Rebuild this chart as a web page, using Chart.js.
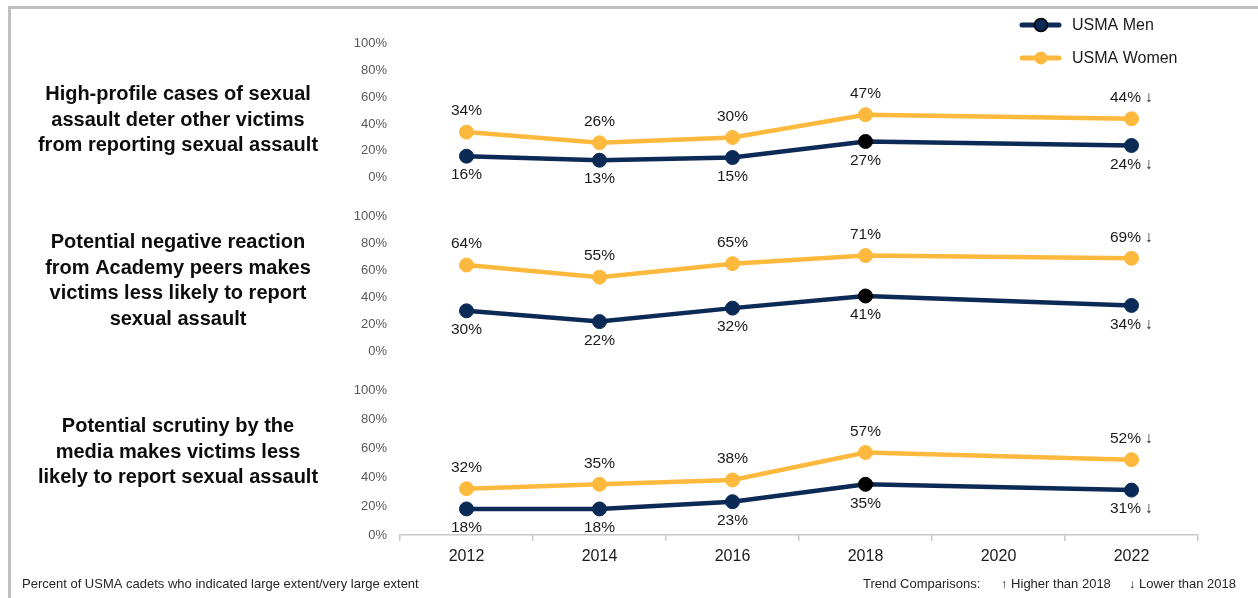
<!DOCTYPE html>
<html>
<head>
<meta charset="utf-8">
<title>USMA - reasons victims do not report</title>
<script src="https://cdn.jsdelivr.net/npm/chart.js@4.4.1/dist/chart.umd.min.js"></script>
<style>
    html, body { margin: 0; padding: 0; background: #fff; }
    #wrap { position: relative; width: 1258px; height: 598px; overflow: hidden; }
    #frame { position: absolute; left: 8px; top: 6px; right: -4px; bottom: -4px; border-left: 3px solid #c0c0c0; border-top: 3px solid #c0c0c0; }
    #chart { position: absolute; left: 0; top: 0; }
</style>
</head>
<body>
<div id="wrap">
    <div id="frame"></div>
    <canvas id="chart" width="1258" height="598"></canvas>
</div>
<script>
const years = ['2012', '2014', '2016', '2018', '2020', '2022'];
const yTicks = [0, 20, 40, 60, 80, 100];

const panelTitles = [
    ['High-profile cases of sexual', 'assault deter other victims', 'from reporting sexual assault'],
    ['Potential negative reaction', 'from Academy peers makes', 'victims less likely to report', 'sexual assault'],
    ['Potential scrutiny by the', 'media makes victims less', 'likely to report sexual assault']
];

// percent of cadets, 2020 had no survey
const menDeter = [16, 13, 15, 27, null, 24];
const womenDeter = [34, 26, 30, 47, null, 44];
const menPeers = [30, 22, 32, 41, null, 34];
const womenPeers = [64, 55, 65, 71, null, 69];
const menMedia = [18, 18, 23, 35, null, 31];
const womenMedia = [32, 35, 38, 57, null, 52];

// trend vs 2018, shown on the 2022 label (deter, peers, media)
const trendMen = ['↓', '↓', '↓'];
const trendWomen = ['↓', '↓', '↓'];

const seriesNames = ['USMA Men', 'USMA Women'];
const highlightYear = '2018';

const NAVY = '#0c2a56';
const GOLD = '#fdb93d';
const FONT = '"Liberation Sans", Arial, sans-serif';

const panelAxes = ['yA', 'yB', 'yC'];
const menSeries = [menDeter, menPeers, menMedia];
const womenSeries = [womenDeter, womenPeers, womenMedia];

function lineDataset(label, data, color, axis, side, trend, isMen) {
    return {
        label,
        data,
        yAxisID: axis,
        borderColor: color,
        backgroundColor: color,
        borderWidth: 4.5,
        pointRadius: 7,
        pointHoverRadius: 7,
        pointBackgroundColor: years.map(y => (isMen && y === highlightYear) ? '#000' : color),
        pointBorderColor: years.map(y => (isMen && y === highlightYear) ? '#000' : color),
        pointBorderWidth: 1,
        spanGaps: true,
        tension: 0,
        labelSide: side,
        trend
    };
}

const datasets = [];
panelAxes.forEach((axis, p) => {
    datasets.push(lineDataset(seriesNames[1], womenSeries[p], GOLD, axis, 'above', trendWomen[p], false));
    datasets.push(lineDataset(seriesNames[0], menSeries[p], NAVY, axis, 'below', trendMen[p], true));
});

function panelAxis(min, max, weight, stackWeight) {
    return {
        type: 'linear',
        position: 'left',
        stack: 'panels',
        stackWeight,
        weight,
        min,
        max,
        grid: { display: false, drawTicks: false },
        border: { display: false },
        afterBuildTicks: axis => { axis.ticks = yTicks.map(v => ({ value: v })); },
        afterFit: axis => { axis.width = 400; },
        ticks: {
            autoSkip: false,
            padding: 13,
            color: '#595959',
            font: { family: FONT, size: 13 },
            callback: v => v + '%'
        }
    };
}

const pointLabels = {
    id: 'pointLabels',
    afterDatasetsDraw(chart) {
        const ctx = chart.ctx;
        ctx.save();
        ctx.font = '15.5px ' + FONT;
        ctx.fillStyle = '#1a1a1a';
        ctx.textAlign = 'center';
        ctx.textBaseline = 'middle';
        chart.data.datasets.forEach((ds, di) => {
            const meta = chart.getDatasetMeta(di);
            const last = ds.data.length - 1;
            meta.data.forEach((pt, i) => {
                const v = ds.data[i];
                if (v === null || v === undefined) return;
                let txt = v + '%';
                if (i === last && ds.trend) txt += ' ' + ds.trend;
                const dy = ds.labelSide === 'above' ? -21 : 19;
                ctx.fillText(txt, pt.x, pt.y + dy);
            });
        });
        ctx.restore();
    }
};

// where the bold question text sits, in axis percent
const titleAnchor = [43, 52, 57];

const sideText = {
    id: 'sideText',
    afterDraw(chart) {
        const ctx = chart.ctx;
        ctx.save();
        ctx.fillStyle = '#0d0d0d';
        ctx.textBaseline = 'middle';

        // question labels
        ctx.font = 'bold 20px ' + FONT;
        ctx.textAlign = 'center';
        panelAxes.forEach((id, p) => {
            const sc = chart.scales[id];
            const lines = panelTitles[p];
            const cy = sc.getPixelForValue(titleAnchor[p]);
            lines.forEach((ln, k) => {
                ctx.fillText(ln, 178, cy + (k - (lines.length - 1) / 2) * 25.5);
            });
        });

        // legend
        ctx.textAlign = 'left';
        ctx.font = '16px ' + FONT;
        [[NAVY, seriesNames[0], 25], [GOLD, seriesNames[1], 58]].forEach(([c, name, y]) => {
            ctx.strokeStyle = c;
            ctx.lineWidth = 5;
            ctx.lineCap = 'round';
            ctx.beginPath();
            ctx.moveTo(1022, y);
            ctx.lineTo(1059, y);
            ctx.stroke();
            ctx.beginPath();
            ctx.arc(1041, y, 6.5, 0, Math.PI * 2);
            ctx.fillStyle = c;
            ctx.fill();
            if (c === NAVY) {
                ctx.lineWidth = 1.5;
                ctx.strokeStyle = '#000';
                ctx.stroke();
            }
            ctx.fillStyle = '#1a1a1a';
            ctx.fillText(name, 1072, y + 1);
        });

        // footer notes
        ctx.font = '13px ' + FONT;
        ctx.fillStyle = '#262626';
        ctx.fillText('Percent of USMA cadets who indicated large extent/very large extent', 22, 584);
        ctx.fillText('Trend Comparisons:', 863, 584);
        ctx.fillText('↑ Higher than 2018', 1001, 584);
        ctx.fillText('↓ Lower than 2018', 1129, 584);
        ctx.restore();
    }
};

new Chart(document.getElementById('chart'), {
    type: 'line',
    data: { labels: years, datasets },
    options: {
        responsive: false,
        animation: false,
        layout: { padding: { top: 20, right: 60, bottom: 33, left: 0 } },
        plugins: {
            legend: { display: false },
            tooltip: { enabled: false }
        },
        scales: {
            x: {
                type: 'category',
                offset: true,
                grid: { offset: true, drawOnChartArea: false, tickLength: 6, color: '#c8c8c8', lineWidth: 1.5 },
                border: { color: '#c8c8c8', width: 1.5 },
                afterFit: axis => { axis.height = 30; },
                ticks: { padding: 6, color: '#1a1a1a', font: { family: FONT, size: 16 } }
            },
            yA: panelAxis(-14.9, 117.2, 3, 177),
            yB: panelAxis(-15.6, 114.1, 2, 175),
            yC: panelAxis(0, 112.4, 1, 163)
        }
    },
    plugins: [pointLabels, sideText]
});
</script>
</body>
</html>
